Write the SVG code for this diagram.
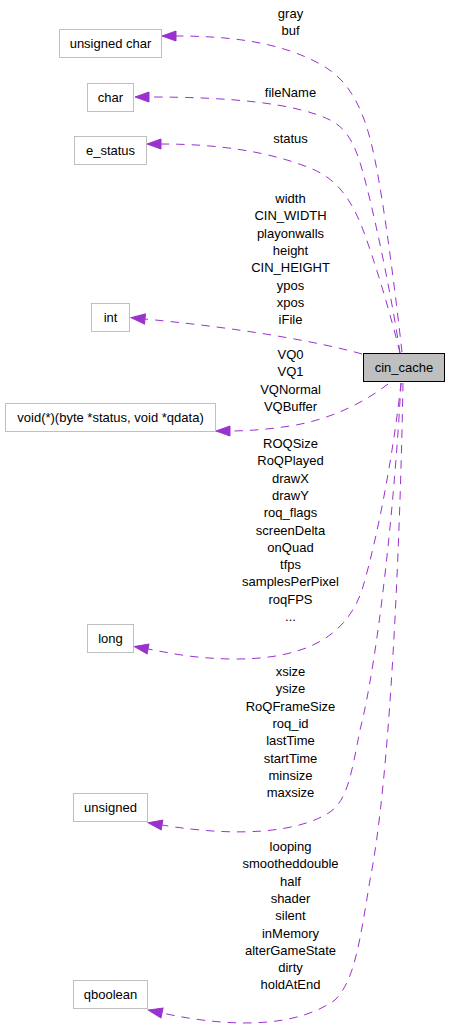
<svg xmlns="http://www.w3.org/2000/svg" width="451" height="1031" viewBox="0 0 451 1031">
<style>
  .node rect { fill: #ffffff; stroke: #bfbfbf; stroke-width: 1; }
  .node text, .lbl { font-family: "Liberation Sans", Arial, sans-serif; font-size: 13px; fill: #000000; text-anchor: middle; }
  .main rect { fill: #bfbfbf; stroke: #000000; stroke-width: 1; }
  .edge { fill: none; stroke: #9a32cd; stroke-width: 1; stroke-dasharray: 8.5,7; marker-end: url(#arrow); }
</style>
<defs>
  <marker id="arrow" markerUnits="userSpaceOnUse" markerWidth="15" markerHeight="11" refX="0" refY="5" orient="auto" overflow="visible">
    <path d="M0,0 L14,5 L0,10 Z" fill="#9a32cd" stroke="#9a32cd" stroke-width="1"/>
  </marker>
</defs>
<rect width="451" height="1031" fill="#ffffff"/>

<g id="connectors">
  <path class="edge" d="M402,352 C395,290 385,210 375,160 C365,110 350,80 320,64 C280,42 230,36 176,36"/>
  <path class="edge" d="M400,353 C393,305 378,230 365,180 C357,150 350,130 330,120 C295,103 230,97 149,97"/>
  <path class="edge" d="M400,353 C392,320 375,260 360,222 C348,195 335,178 310,168 C270,152 220,144 161,144"/>
  <path class="edge" d="M362,354 C330,345 260,330 145,319"/>
  <path class="edge" d="M388,384 C365,402 330,420 290,426 C270,429 250,431 230,431"/>
  <path class="edge" d="M401,383 C395,440 380,530 362,590 C345,640 300,660 230,659 C190,658 170,653 148,649"/>
  <path class="edge" d="M401,383 C395,500 378,660 360,730 C352,770 348,800 330,812 C300,832 240,838 162,825"/>
  <path class="edge" d="M403,383 C400,550 390,780 370,880 C360,940 355,980 335,1000 C300,1025 240,1030 162,1013"/>
</g>

<g id="edge-labels">
  <text class="lbl" x="290.5" y="18">gray<tspan x="290.5" dy="17.3">buf</tspan></text>
  <text class="lbl" x="290.5" y="97">fileName</text>
  <text class="lbl" x="290.5" y="143">status</text>
  <text class="lbl" x="290.5" y="203">width<tspan x="290.5" dy="17.3">CIN_WIDTH</tspan><tspan x="290.5" dy="17.3">playonwalls</tspan><tspan x="290.5" dy="17.3">height</tspan><tspan x="290.5" dy="17.3">CIN_HEIGHT</tspan><tspan x="290.5" dy="17.3">ypos</tspan><tspan x="290.5" dy="17.3">xpos</tspan><tspan x="290.5" dy="17.3">iFile</tspan></text>
  <text class="lbl" x="290.5" y="359">VQ0<tspan x="290.5" dy="17.3">VQ1</tspan><tspan x="290.5" dy="17.3">VQNormal</tspan><tspan x="290.5" dy="17.3">VQBuffer</tspan></text>
  <text class="lbl" x="290.5" y="448">ROQSize<tspan x="290.5" dy="17.3">RoQPlayed</tspan><tspan x="290.5" dy="17.3">drawX</tspan><tspan x="290.5" dy="17.3">drawY</tspan><tspan x="290.5" dy="17.3">roq_flags</tspan><tspan x="290.5" dy="17.3">screenDelta</tspan><tspan x="290.5" dy="17.3">onQuad</tspan><tspan x="290.5" dy="17.3">tfps</tspan><tspan x="290.5" dy="17.3">samplesPerPixel</tspan><tspan x="290.5" dy="17.3">roqFPS</tspan><tspan x="290.5" dy="17.3">...</tspan></text>
  <text class="lbl" x="290.5" y="676">xsize<tspan x="290.5" dy="17.3">ysize</tspan><tspan x="290.5" dy="17.3">RoQFrameSize</tspan><tspan x="290.5" dy="17.3">roq_id</tspan><tspan x="290.5" dy="17.3">lastTime</tspan><tspan x="290.5" dy="17.3">startTime</tspan><tspan x="290.5" dy="17.3">minsize</tspan><tspan x="290.5" dy="17.3">maxsize</tspan></text>
  <text class="lbl" x="290.5" y="851">looping<tspan x="290.5" dy="17.3">smootheddouble</tspan><tspan x="290.5" dy="17.3">half</tspan><tspan x="290.5" dy="17.3">shader</tspan><tspan x="290.5" dy="17.3">silent</tspan><tspan x="290.5" dy="17.3">inMemory</tspan><tspan x="290.5" dy="17.3">alterGameState</tspan><tspan x="290.5" dy="17.3">dirty</tspan><tspan x="290.5" dy="17.3">holdAtEnd</tspan></text>
</g>

<g id="node-cin_cache" class="main">
  <rect x="363.5" y="353.5" width="81" height="28"/>
  <text x="404" y="372" style="font-family:'Liberation Sans',Arial,sans-serif;font-size:13px;text-anchor:middle">cin_cache</text>
</g>
<g id="node-unsigned_char" class="node">
  <rect x="59.5" y="29.5" width="102" height="28"/>
  <text x="110.5" y="48">unsigned char</text>
</g>
<g id="node-char" class="node">
  <rect x="87.5" y="83.5" width="46" height="28"/>
  <text x="110.5" y="102">char</text>
</g>
<g id="node-e_status" class="node">
  <rect x="74.5" y="136.5" width="72" height="28"/>
  <text x="110.5" y="155">e_status</text>
</g>
<g id="node-int" class="node">
  <rect x="91.5" y="303.5" width="38" height="28"/>
  <text x="110.5" y="322">int</text>
</g>
<g id="node-void_fn" class="node">
  <rect x="5.5" y="403.5" width="210" height="28"/>
  <text x="110.5" y="422">void(*)(byte *status, void *qdata)</text>
</g>
<g id="node-long" class="node">
  <rect x="87.5" y="624.5" width="46" height="28"/>
  <text x="110.5" y="643">long</text>
</g>
<g id="node-unsigned" class="node">
  <rect x="73.5" y="793.5" width="74" height="28"/>
  <text x="110.5" y="812">unsigned</text>
</g>
<g id="node-qboolean" class="node">
  <rect x="73.5" y="980.5" width="74" height="28"/>
  <text x="110.5" y="999">qboolean</text>
</g>
</svg>
